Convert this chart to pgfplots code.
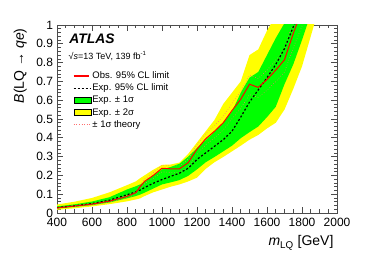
\documentclass[border=0pt]{standalone}
\usepackage{fontspec}
\setmainfont{Liberation Sans}
\usepackage{pgfplots}
\pgfplotsset{compat=1.18}
\usepgfplotslibrary{fillbetween}
\usepackage{pgfplotstable}

\definecolor{rootgreen}{RGB}{0,255,0}
\definecolor{rootyellow}{RGB}{255,255,0}
\definecolor{rootred}{RGB}{255,0,0}
\definecolor{theory}{RGB}{255,110,110}

\pgfplotstableread{
m    exp   glo   ghi   ylo   yhi   obs   tlo   thi
400  0.029 0.024 0.035 0.017 0.045 0.027 0.025 0.029
500  0.038 0.032 0.046 0.025 0.060 0.037 0.034 0.040
600  0.050 0.042 0.061 0.035 0.080 0.047 0.043 0.050
700  0.068 0.056 0.084 0.047 0.110 0.063 0.058 0.067
800  0.097 0.078 0.125 0.062 0.148 0.088 0.081 0.094
850  0.112 0.090 0.142 0.072 0.168 0.108 0.099 0.116
875  0.122 0.098 0.152 0.078 0.185 0.140 0.129 0.150
900  0.135 0.108 0.165 0.090 0.200 0.168 0.155 0.180
950  0.158 0.130 0.200 0.110 0.230 0.200 0.184 0.214
1000 0.178 0.152 0.232 0.125 0.256 0.238 0.219 0.255
1050 0.195 0.163 0.245 0.140 0.258 0.235 0.216 0.251
1100 0.212 0.175 0.262 0.152 0.268 0.235 0.216 0.251
1150 0.238 0.198 0.300 0.168 0.315 0.268 0.247 0.287
1200 0.285 0.232 0.345 0.188 0.375 0.340 0.313 0.364
1250 0.320 0.270 0.388 0.235 0.435 0.395 0.363 0.423
1300 0.355 0.298 0.432 0.270 0.495 0.435 0.400 0.465
1350 0.390 0.328 0.482 0.298 0.580 0.480 0.442 0.514
1400 0.435 0.358 0.540 0.328 0.640 0.545 0.501 0.583
1450 0.510 0.398 0.640 0.358 0.700 0.605 0.557 0.647
1500 0.590 0.430 0.720 0.390 0.840 0.685 0.630 0.733
1550 0.655 0.460 0.750 0.415 0.870 0.668 0.615 0.715
1600 0.720 0.510 0.840 0.450 0.970 0.710 0.653 0.760
1650 0.790 0.565 0.930 0.480 1.050 0.760 0.699 0.813
1700 0.875 0.685 1.010 0.550 1.150 0.815 0.750 0.872
1750 0.990 0.790 1.120 0.660 1.250 0.955 0.879 1.022
1800 1.080 0.920 1.220 0.780 1.350 1.080 0.994 1.156
1850 1.170 1.060 1.320 0.940 1.450 1.200 1.104 1.284
1900 1.260 1.200 1.420 1.100 1.550 1.300 1.196 1.391
}\limits

\begin{document}
\begin{tikzpicture}
\begin{axis}[
  scale only axis, width=280pt, height=188pt,
  xmin=400, xmax=2000, ymin=0, ymax=1,
  xtick={400,600,800,1000,1200,1400,1600,1800,2000},
  ytick={0,0.1,0.2,0.3,0.4,0.5,0.6,0.7,0.8,0.9,1},
  minor x tick num=3, minor y tick num=4,
  tick align=inside, tick pos=both,
  major tick length=6pt, minor tick length=3.5pt,
  tick style={black!70, line width=0.6pt},
  axis line style={black!70, line width=0.8pt},
  tick label style={font=\fontsize{12}{12}\selectfont},
  yticklabel style={xshift=-0.5pt},
  xticklabel style={yshift=-2pt},
  /pgf/number format/assume math mode=true,
  /pgf/number format/1000 sep={},
  legend style={at={(0.046,0.77)}, anchor=north west, draw=none, fill=none,
    font=\fontsize{9.5}{11}\selectfont, row sep=1.2pt,
    nodes={inner sep=1pt, text height=7pt, text depth=2pt}},
  legend cell align=left,
]
\addplot[name path=yup, draw=none, forget plot] table[x=m,y=yhi]{\limits};
\addplot[name path=ylo, draw=none, forget plot] table[x=m,y=ylo]{\limits};
\addplot[rootyellow, forget plot] fill between[of=yup and ylo];
\addplot[name path=gup, draw=none, forget plot] table[x=m,y=ghi]{\limits};
\addplot[name path=glo, draw=none, forget plot] table[x=m,y=glo]{\limits};
\addplot[rootgreen, forget plot] fill between[of=gup and glo];
\addplot[draw=theory, dotted, line width=0.6pt, forget plot] table[x=m,y=thi]{\limits};
\addplot[draw=theory, dotted, line width=0.6pt, forget plot] table[x=m,y=tlo]{\limits};
\addplot[draw=black, line width=1.2pt, dash pattern=on 2pt off 2pt, forget plot] table[x=m,y=exp]{\limits};
\addplot[draw=rootred, line width=1pt, forget plot] table[x=m,y=obs]{\limits};

\addlegendimage{legend image code/.code={\draw[red, line width=1.3pt] (0cm,0cm) -- (0.55cm,0cm);}}
\addlegendentry{Obs. 95\% CL limit}
\addlegendimage{line legend, color=black, line width=1.2pt, dash pattern=on 2pt off 2pt}
\addlegendentry{Exp. 95\% CL limit}
\addlegendimage{area legend, fill=rootgreen, draw=black}
\addlegendentry{Exp. ± 1σ}
\addlegendimage{area legend, fill=rootyellow, draw=black}
\addlegendentry{Exp. ± 2σ}
\addlegendimage{line legend, color=theory, dotted, line width=0.6pt}
\addlegendentry{± 1σ theory}

\node[anchor=base west, font=\fontsize{13.8}{14}\selectfont\bfseries\itshape] at (rel axis cs:0.032,0.899) {ATLAS};
\node[anchor=base west, font=\fontsize{9}{10}\selectfont] at (rel axis cs:0.029,0.819) {√\textit{s}=13 TeV, 139 fb\textsuperscript{-1}};
\end{axis}
\node[anchor=base east, rotate=90, font=\fontsize{14}{14}\selectfont] at ([xshift=-33pt]current axis.north west) {\textit{B}(LQ → \textit{qe})};
\node[anchor=base east, font=\fontsize{14}{14}\selectfont] at ([yshift=-33pt]current axis.south east) {\textit{m}\textsubscript{LQ} [GeV]};
\pgfresetboundingbox
\path[use as bounding box] ([xshift=-57pt,yshift=-40pt]current axis.south west) rectangle ([xshift=37pt,yshift=25pt]current axis.north east);
\end{tikzpicture}
\end{document}
